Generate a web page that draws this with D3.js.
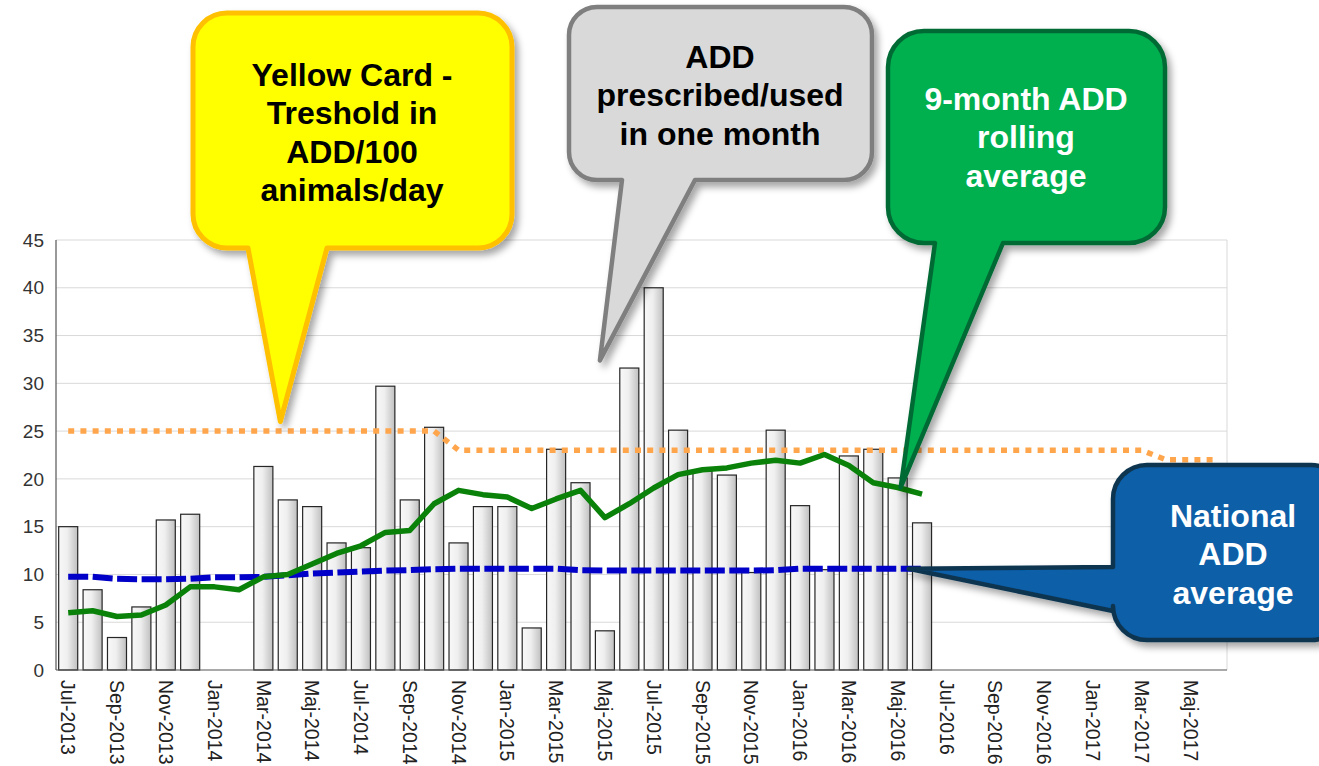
<!DOCTYPE html>
<html>
<head>
<meta charset="utf-8">
<script src="https://cdn.jsdelivr.net/npm/d3@7"></script>
<style>
  body { margin: 0; background: #fff; }
  svg { display: block; font-family: "Liberation Sans", Arial, sans-serif; }
  .grid-line { stroke: #d9d9d9; stroke-width: 1; }
  .axis-line { stroke: #555; stroke-width: 1.2; }
  .y-label { fill: #333; font-size: 19px; }
  .x-label { fill: #222; font-size: 19.5px; }
  .bubble-text { font-weight: bold; font-size: 32px; text-anchor: middle; }
</style>
</head>
<body>
<div id="chart"></div>
<script>
// Data
const months = [
  "Jul-2013","Aug-2013","Sep-2013","Okt-2013","Nov-2013","Dec-2013",
  "Jan-2014","Feb-2014","Mar-2014","Apr-2014","Maj-2014","Jun-2014",
  "Jul-2014","Aug-2014","Sep-2014","Okt-2014","Nov-2014","Dec-2014",
  "Jan-2015","Feb-2015","Mar-2015","Apr-2015","Maj-2015","Jun-2015",
  "Jul-2015","Aug-2015","Sep-2015","Okt-2015","Nov-2015","Dec-2015",
  "Jan-2016","Feb-2016","Mar-2016","Apr-2016","Maj-2016","Jun-2016",
  "Jul-2016","Aug-2016","Sep-2016","Okt-2016","Nov-2016","Dec-2016",
  "Jan-2017","Feb-2017","Mar-2017","Apr-2017","Maj-2017","Jun-2017"
];
const tickLabels = [
  "Jul-2013","Sep-2013","Nov-2013","Jan-2014","Mar-2014","Maj-2014",
  "Jul-2014","Sep-2014","Nov-2014","Jan-2015","Mar-2015","Maj-2015",
  "Jul-2015","Sep-2015","Nov-2015","Jan-2016","Mar-2016","Maj-2016",
  "Jul-2016","Sep-2016","Nov-2016","Jan-2017","Mar-2017","Maj-2017"
];
const yTicks = [0, 5, 10, 15, 20, 25, 30, 35, 40, 45];

// ADD prescribed/used in one month (bars)
const addMonthly = [
  15.0, 8.4, 3.4, 6.6, 15.7, 16.3,
  null, null, 21.3, 17.8, 17.1, 13.3,
  12.8, 29.7, 17.8, 25.4, 13.3, 17.1,
  17.1, 4.4, 23.1, 19.6, 4.1, 31.6,
  40.0, 25.1, 20.8, 20.4, 10.2, 25.1,
  17.2, 10.5, 22.4, 23.1, 20.1, 15.4,
  null, null, null, null, null, null,
  null, null, null, null, null, null
];
// 9-month rolling average (green)
const rollingAvg = [
  6.0, 6.2, 5.6, 5.75, 6.8, 8.7,
  8.7, 8.4, 9.75, 10.0, 11.1, 12.2,
  13.0, 14.4, 14.6, 17.4, 18.8, 18.35,
  18.1, 16.9, 17.9, 18.8, 15.95, 17.4,
  19.05, 20.45, 20.95, 21.15, 21.65, 21.95,
  21.65, 22.55, 21.4, 19.6, 19.1, 18.4
];
// National ADD average (blue)
const nationalAvg = [
  9.75, 9.75, 9.55, 9.5, 9.5, 9.55,
  9.7, 9.7, 9.75, 9.9, 10.1, 10.2,
  10.3, 10.4, 10.45, 10.55, 10.6, 10.6,
  10.6, 10.6, 10.6, 10.45, 10.4, 10.4,
  10.4, 10.4, 10.4, 10.4, 10.4, 10.45,
  10.6, 10.6, 10.6, 10.6, 10.6, 10.6
];
// Yellow card threshold (orange)
const threshold = [
  25, 25, 25, 25, 25, 25, 25, 25, 25, 25, 25, 25, 25, 25, 25, 25,
  23, 23, 23, 23, 23, 23, 23, 23, 23, 23, 23, 23, 23, 23, 23, 23,
  23, 23, 23, 23, 23, 23, 23, 23, 23, 23, 23, 23, 23,
  22, 22, 22
];

const width = 1319, height = 766;
const margin = { top: 240, right: 92, bottom: 96, left: 56 };
const innerWidth = width - margin.left - margin.right;
const innerHeight = height - margin.top - margin.bottom;

const svg = d3.select("#chart")
  .append("svg")
    .attr("width", width)
    .attr("height", height)
    .attr("viewBox", `0 0 ${width} ${height}`);

const defs = svg.append("defs");

// bar gradient
const grad = defs.append("linearGradient")
  .attr("id", "barGrad")
  .attr("x1", "0%").attr("x2", "100%").attr("y1", "0%").attr("y2", "0%");
grad.append("stop").attr("offset", "0%").attr("stop-color", "#f8f8f8");
grad.append("stop").attr("offset", "45%").attr("stop-color", "#efefef");
grad.append("stop").attr("offset", "100%").attr("stop-color", "#c0c0c0");

// soft shadow for the callouts
const shadow = defs.append("filter")
  .attr("id", "shadow")
  .attr("x", "-20%").attr("y", "-20%").attr("width", "150%").attr("height", "150%");
shadow.append("feDropShadow")
  .attr("dx", 4).attr("dy", 5)
  .attr("stdDeviation", 3.5)
  .attr("flood-color", "#000")
  .attr("flood-opacity", 0.35);

const chart = svg.append("g")
  .attr("transform", `translate(${margin.left},${margin.top})`);

const xScale = d3.scaleBand()
  .domain(months)
  .range([0, innerWidth])
  .paddingInner(0.22)
  .paddingOuter(0.11);

const yScale = d3.scaleLinear()
  .domain([0, 45])
  .range([innerHeight, 0]);

const xMid = m => xScale(m) + xScale.bandwidth() / 2;

// GRID
chart.selectAll(".grid-line")
  .data(yTicks.filter(d => d > 0))
  .join("line")
    .attr("class", "grid-line")
    .attr("x1", 0)
    .attr("x2", innerWidth)
    .attr("y1", d => yScale(d))
    .attr("y2", d => yScale(d));

chart.append("line")
  .attr("class", "grid-line")
  .attr("x1", innerWidth).attr("x2", innerWidth)
  .attr("y1", 0).attr("y2", innerHeight);

// BARS
const barData = months.map((m, i) => ({ month: m, value: addMonthly[i] }))
  .filter(d => d.value !== null);

chart.selectAll("rect.bar")
  .data(barData)
  .join("rect")
    .attr("class", "bar")
    .attr("x", d => xScale(d.month))
    .attr("y", d => yScale(d.value))
    .attr("width", xScale.bandwidth())
    .attr("height", d => innerHeight - yScale(d.value))
    .attr("fill", "url(#barGrad)")
    .attr("stroke", "#262626")
    .attr("stroke-width", 1.2);

// LINES
const line = d3.line()
  .x(d => xMid(d.month))
  .y(d => yScale(d.value));

const toPoints = arr => arr.map((v, i) => ({ month: months[i], value: v }));

chart.append("path")
  .datum(toPoints(threshold))
  .attr("d", line)
  .attr("fill", "none")
  .attr("stroke", "#ffa64d")
  .attr("stroke-width", 5.5)
  .attr("stroke-dasharray", "6 6.2");

chart.append("path")
  .datum(toPoints(nationalAvg))
  .attr("d", line)
  .attr("fill", "none")
  .attr("stroke", "#0000c8")
  .attr("stroke-width", 6)
  .attr("stroke-dasharray", "20 4.5");

chart.append("path")
  .datum(toPoints(rollingAvg))
  .attr("d", line)
  .attr("fill", "none")
  .attr("stroke", "#0a820a")
  .attr("stroke-width", 5.5)
  .attr("stroke-linejoin", "round");

// AXES
chart.append("line")
  .attr("class", "axis-line")
  .attr("x1", 0).attr("x2", 0)
  .attr("y1", 0).attr("y2", innerHeight);

chart.append("line")
  .attr("class", "axis-line")
  .attr("x1", 0).attr("x2", innerWidth)
  .attr("y1", innerHeight).attr("y2", innerHeight);

chart.selectAll(".y-label")
  .data(yTicks)
  .join("text")
    .attr("class", "y-label")
    .attr("x", -12)
    .attr("y", d => yScale(d))
    .attr("dy", "0.35em")
    .attr("text-anchor", "end")
    .text(d => d);

chart.selectAll(".x-label")
  .data(tickLabels)
  .join("text")
    .attr("class", "x-label")
    .attr("transform", d => `translate(${xMid(d)},${innerHeight + 10}) rotate(90)`)
    .attr("dy", "0.35em")
    .attr("text-anchor", "start")
    .text(d => d);

// CALLOUTS
// rounded box with a pointer; tail is on the bottom edge (a..b) or the left edge (a..b)
function bubblePath(x0, y0, x1, y1, r, tail) {
  const p = d3.path();
  p.moveTo(x0 + r, y0);
  p.lineTo(x1 - r, y0);
  p.arcTo(x1, y0, x1, y0 + r, r);
  p.lineTo(x1, y1 - r);
  p.arcTo(x1, y1, x1 - r, y1, r);
  if (tail.side === "bottom") {
    p.lineTo(tail.b, y1);
    p.lineTo(tail.tip[0], tail.tip[1]);
    p.lineTo(tail.a, y1);
  }
  p.lineTo(x0 + r, y1);
  p.arcTo(x0, y1, x0, y1 - r, r);
  if (tail.side === "left") {
    p.lineTo(x0, tail.b);
    p.lineTo(tail.tip[0], tail.tip[1]);
    p.lineTo(x0, tail.a);
  }
  p.lineTo(x0, y0 + r);
  p.arcTo(x0, y0, x0 + r, y0, r);
  p.closePath();
  return p.toString();
}

const bx = m => margin.left + xMid(m);
const by = v => margin.top + yScale(v);

const callouts = [
  {
    box: [193, 13, 512, 248], r: 34,
    tail: { side: "bottom", a: 248, b: 327, tip: [bx("Mar-2014") + 17, by(26)] },
    fill: "#ffff00", stroke: "#ffc000", sw: 5, color: "#000",
    lines: ["Yellow Card -", "Treshold in", "ADD/100", "animals/day"], cx: 352, y0: 86
  },
  {
    box: [569, 7, 872, 180], r: 28,
    tail: { side: "bottom", a: 622, b: 695, tip: [bx("Maj-2015") - 5, by(32.4)] },
    fill: "#d9d9d9", stroke: "#7f7f7f", sw: 4.5, color: "#000",
    lines: ["ADD", "prescribed/used", "in one month"], cx: 720, y0: 68
  },
  {
    box: [888, 31, 1165, 243], r: 36,
    tail: { side: "bottom", a: 935, b: 1003, tip: [bx("Maj-2016") + 3, by(19.1)] },
    fill: "#00b050", stroke: "#006b35", sw: 4.5, color: "#fff",
    lines: ["9-month ADD", "rolling", "average"], cx: 1026, y0: 110
  },
  {
    box: [1113, 465, 1345, 640], r: 34,
    tail: { side: "left", a: 567, b: 611, tip: [bx("Maj-2016") + 11, by(10.6)] },
    fill: "#075ea8", stroke: "#0d3550", sw: 4.5, color: "#fff",
    lines: ["National", "ADD", "average"], cx: 1233, y0: 527
  }
];

const calloutG = svg.selectAll("g.callout")
  .data(callouts)
  .join("g")
    .attr("class", "callout");

calloutG.append("path")
  .attr("d", d => bubblePath(d.box[0], d.box[1], d.box[2], d.box[3], d.r, d.tail))
  .attr("fill", d => d.fill)
  .attr("stroke", d => d.stroke)
  .attr("stroke-width", d => d.sw)
  .attr("stroke-linejoin", "round")
  .attr("filter", "url(#shadow)");

calloutG.each(function(d) {
  d3.select(this).selectAll("text")
    .data(d.lines)
    .join("text")
      .attr("class", "bubble-text")
      .attr("x", d.cx)
      .attr("y", (t, i) => d.y0 + i * 38.3)
      .attr("fill", d.color)
      .text(t => t);
});
</script>
</body>
</html>
